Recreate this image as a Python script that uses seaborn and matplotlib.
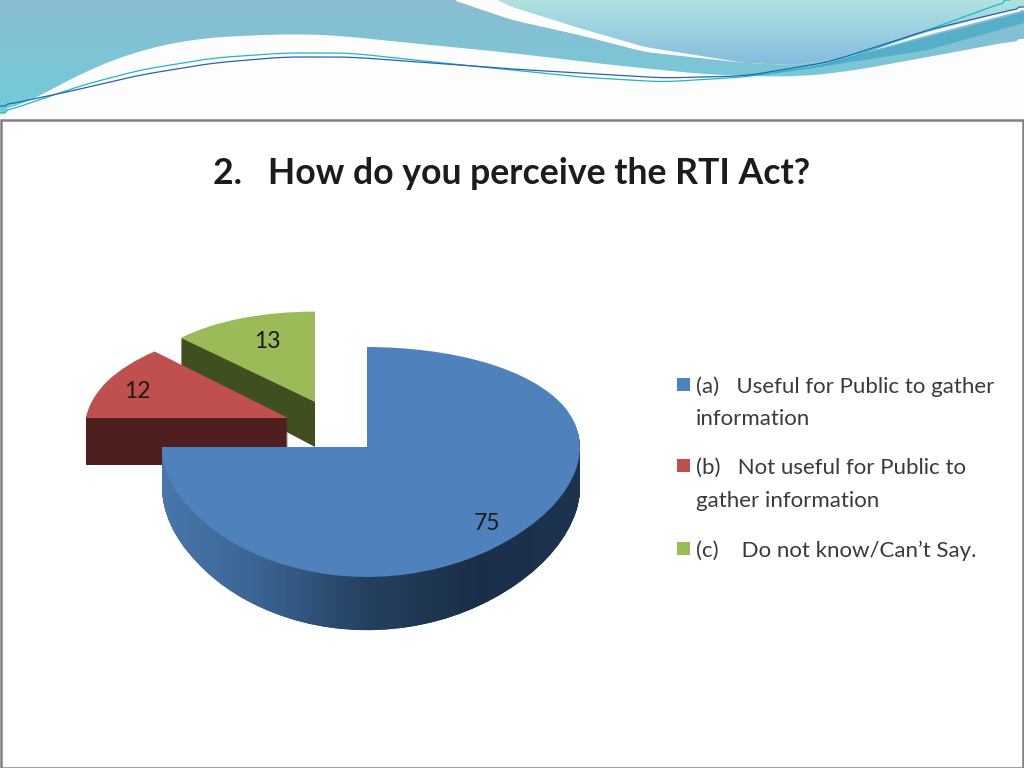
import numpy as np
import matplotlib
matplotlib.use('Agg')
import matplotlib.pyplot as plt
import seaborn as sns
from matplotlib.patches import Polygon, Rectangle
from matplotlib.path import Path
from matplotlib.transforms import Affine2D

title = '2.   How do you perceive the RTI Act?'
values = [75, 12, 13]
labels = ['(a)   Useful for Public to gather\ninformation',
          '(b)   Not useful for Public to\ngather information',
          '(c)    Do not know/Can\u2019t Say.']
top_colors = ['#4f81bd', '#c0504d', '#9bbb59']
side_colors = ['#2b4a70', '#4f1e1e', '#404f20']

sns.set_theme(style='white')
plt.rcParams['font.family'] = ['Lato', 'DejaVu Sans']
W, H = 1024, 768
fig = plt.figure(figsize=(W / 100, H / 100), dpi=100, facecolor='#fdfdfd')


def smooth(pts, n=400, k=25):
    # dense curve through the hand read outline points
    pts = np.array(pts, dtype=float)
    t = np.linspace(pts[0, 0], pts[-1, 0], n)
    y = np.interp(t, pts[:, 0], pts[:, 1])
    pad = np.r_[np.full(k, y[0]), y, np.full(k, y[-1])]
    y = np.convolve(pad, np.ones(k) / k, mode='same')[k:-k]
    y[:3] = pts[0, 1]
    y[-3:] = pts[-1, 1]
    return np.c_[t, y]


def gradient(ax, outline, c_top, c_bot, y0, y1, z):
    cmap = matplotlib.colors.LinearSegmentedColormap.from_list('g', [c_top, c_bot])
    im = ax.imshow(np.linspace(0, 1, 100)[:, None], cmap=cmap, aspect='auto',
                   extent=(0, W, y1, y0), zorder=z)
    poly = Polygon(outline, closed=True, transform=ax.transData)
    im.set_clip_path(poly)


# slide background
bg = fig.add_axes([0, 0, 1, 1], zorder=0)
bg.set_xlim(0, W)
bg.set_ylim(H, 0)
bg.axis('off')

main_low = smooth([(0, 113), (33, 100), (83, 72), (140, 50), (200, 38), (283, 34), (333, 35),
                   (400, 42), (512, 53), (612, 65), (712, 75), (795, 77), (845, 72),
                   (928, 57), (1024, 39)])
main_up = smooth([(453, 0), (512, 20), (579, 35), (645, 52), (745, 63), (795, 65),
                  (845, 58), (928, 35), (1024, 10)], k=15)
outline = np.r_[[(0, 0)], main_up, main_low[::-1]]
gradient(bg, outline, '#8bbcd0', '#70cddb', 0, 113, 1)

light_up = smooth([(497, 0), (512, 7), (579, 28), (645, 47), (745, 63)], k=15)
light_low = smooth([(745, 63), (795, 65), (845, 58), (928, 32), (1024, 7)], k=15)
outline = np.r_[[(1024, 0)], light_up, light_low[1:]]
gradient(bg, outline, '#b0e2e0', '#85bcdf', 0, 65, 2)

band = np.r_[smooth([(800, 70), (928, 37), (1024, 12)], k=15),
             smooth([(800, 70), (928, 50), (1024, 23)], k=15)[::-1]]
bg.add_patch(Polygon(band, closed=True, fc='#56aec9', lw=0, zorder=3))

teal = smooth([(0, 113), (33, 102), (83, 85), (140, 70), (213, 58), (283, 53), (350, 53), (433, 62),
               (512, 70), (579, 77), (662, 82), (745, 77), (829, 65), (928, 30), (1010, 0)], k=15)
navy = smooth([(0, 106), (67, 92), (140, 75), (213, 63), (283, 57), (350, 57), (433, 63),
               (512, 69), (579, 73), (662, 78), (745, 76), (829, 62), (928, 30), (1024, 7)], k=15)
bg.plot(teal[:, 0], teal[:, 1], color='#22b6c4', lw=0.9, zorder=4)
bg.plot(navy[:, 0], navy[:, 1], color='#2a62b0', lw=0.9, zorder=5)

bg.add_patch(Rectangle((1, 120), W - 2.5, H - 120, fc='white', ec='#808080', lw=1.8, zorder=6))
bg.text(511.5, 173, title, fontsize=25.7, fontweight='bold', color='#1c1c1c',
        ha='center', va='center', zorder=7)

# pie axes, one data unit is one radius, seen in perspective
px, py = 367, 447


def proj(a, b):
    return (lambda v: a * np.asarray(v, dtype=float) / (1 + b * np.asarray(v, dtype=float)),
            lambda s: np.asarray(s, dtype=float) / (a - b * np.asarray(s, dtype=float)))


fx, ix = proj(208.9, -0.0191)
fy, iy = proj(113.0, 0.1304)

ax = fig.add_axes([0, 0, 1, 1], zorder=1)
ax.patch.set_alpha(0)


def slab(i, dx, dy, drop, color, z, squeeze, lean):
    # dx, dy: pixel offset of the slice tip from the pie centre
    cx, cy = float(ix(dx)), float(iy(dy - drop))
    wedges = ax.pie(values, startangle=90, counterclock=False, center=(cx, cy),
                    colors=[color] * 3, wedgeprops={'linewidth': 0})[0]
    for j, w in enumerate(wedges):
        if j != i:
            w.remove()
    # far slices lean in a little, the way the 3D view narrows them
    tilt = (Affine2D().translate(-cx, -cy).scale(squeeze, 1)
            .skew(np.arctan(lean), 0).translate(cx, cy))
    wedges[i].set_transform(tilt + ax.transData)
    wedges[i].set_zorder(z)
    return wedges[i]


offsets = {0: (0, 0, 40), 1: (-79, 29, 47), 2: (-52, 45, 45)}
shape = {0: (1.0, 0.0), 1: (1.0, 0.107), 2: (0.9, 0.0)}
layer = {2: 1, 1: 3, 0: 5}
blue_layers = []
for i in [2, 1, 0]:
    dx, dy, depth = offsets[i]
    for d in range(depth, 0, -1):
        w = slab(i, dx, dy, d, side_colors[i], layer[i], *shape[i])
        if i == 0:
            blue_layers.append(w.get_path())
    slab(i, dx, dy, 0, top_colors[i], layer[i] + 2, *shape[i])

ax.set_xscale('function', functions=proj(208.9, -0.0191))
ax.set_yscale('function', functions=proj(113.0, 0.1304))
ax.set_aspect('auto')
ax.set_xlim(float(ix(-px)), float(ix(W - px)))
ax.set_ylim(float(iy(py - H)), float(iy(py)))
ax.axis('off')

# shaded rim of the big slice
cmap = matplotlib.colors.LinearSegmentedColormap.from_list(
    'rim', ['#4a78ae', '#3a6391', '#24405f', '#1a2e47', '#1c3350'])
xs = np.linspace(-1.05, 1.05, 120)
ys = np.array([-2.0, 0.2])
mesh = ax.pcolormesh(xs, ys, np.linspace(0, 1, 119)[None, :], cmap=cmap, zorder=6, shading='flat')
mesh.set_clip_path(Path.make_compound_path(*blue_layers), ax.transData)

for txt, (x, y) in zip(['75', '12', '13'], [(487, 524), (137, 392), (267, 342)]):
    ax.text(float(ix(x - px)), float(iy(py - y)), txt, fontsize=16.5, color='#1a1a1a',
            ha='center', va='center', zorder=10)

# legend, the marker sits on the first line of each entry
baselines = [[393, 425], [474, 507], [557]]
for lab, color, ys_ in zip(labels, top_colors, baselines):
    bg.add_patch(Rectangle((677, ys_[0] - 15), 13, 13, fc=color, lw=0, zorder=7))
    for line, yb in zip(lab.split('\n'), ys_):
        bg.text(696, yb, line, fontsize=16.0, color='#3a3a3a', ha='left', va='baseline', zorder=7)

fig.savefig('out.png', dpi=100, facecolor=fig.get_facecolor())
